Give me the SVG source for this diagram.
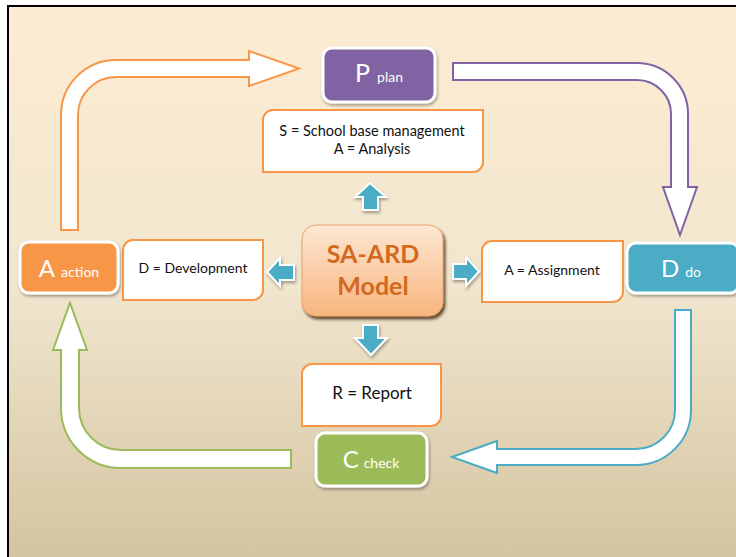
<svg xmlns="http://www.w3.org/2000/svg" width="736" height="557" viewBox="0 0 736 557">
<defs>
<linearGradient id="bg" x1="0" y1="0" x2="0" y2="1">
<stop offset="0" stop-color="#FDECD3"/>
<stop offset="0.5" stop-color="#F1E6CE"/>
<stop offset="1" stop-color="#D3C39F"/>
</linearGradient>
<linearGradient id="core" x1="0" y1="0" x2="0" y2="1">
<stop offset="0" stop-color="#FDE7D3"/>
<stop offset="1" stop-color="#F8B57E"/>
</linearGradient>
<filter id="sh" x="-20%" y="-20%" width="140%" height="150%">
<feDropShadow dx="1" dy="2" stdDeviation="1.5" flood-color="#000" flood-opacity="0.35"/>
</filter>
<filter id="sh2" x="-20%" y="-20%" width="140%" height="150%">
<feDropShadow dx="2" dy="3" stdDeviation="1.5" flood-color="#4a2e12" flood-opacity="0.85"/>
</filter>
<style>
.lbl{font-family:Lato,"Liberation Sans",sans-serif;fill:#fff}
.txt{font-family:Lato,"Liberation Sans",sans-serif;fill:#111;text-anchor:middle}
.box{fill:#fff;stroke:#F79646;stroke-width:2}
.node{stroke:#fff;stroke-width:3;filter:url(#sh)}
.small{fill:#4BACC6;stroke:#fff;stroke-width:2;filter:url(#sh)}
.conn{fill:#fff;stroke-width:2;stroke-linejoin:miter}
</style>
</defs>
<rect x="0" y="0" width="736" height="557" fill="#fff"/>
<rect x="8" y="6" width="740" height="560" fill="url(#bg)" stroke="#000" stroke-width="2"/>

<g id="connectors">
<path class="conn" stroke="#F79646" d="M61,230 L61,115 A55,55 0 0 1 116,60 L249,60 L249,51 L299,68.5 L249,86 L249,77 L116,77 A38,38 0 0 0 78,115 L78,230 Z"/>
<path class="conn" stroke="#8064A2" d="M453,63 L637,63 A51,51 0 0 1 688,114 L688,187 L697,187 L680,235 L663,187 L671,187 L671,114 A34,34 0 0 0 637,80 L453,80 Z"/>
<path class="conn" stroke="#4BACC6" d="M675,310 L691,310 L691,410 A55,55 0 0 1 636,465 L497,465 L497,473 L452,457 L497,441 L497,449 L636,449 A39,39 0 0 0 675,410 Z"/>
<path class="conn" stroke="#9BBB59" d="M291,450 L291,468 L121,468 A60,60 0 0 1 61,408 L61,350 L53,350 L70,303 L87,350 L79,350 L79,408 A42,42 0 0 0 121,450 Z"/>
<path class="small" d="M363,210 L363,197 L355,197 L370,183 L386,197 L378,197 L378,210 Z"/>
<path class="small" d="M294,265 L280,265 L280,258 L267,272 L280,286 L280,280 L294,280 Z"/>
<path class="small" d="M453,264 L466,264 L466,257 L479,271.5 L466,286 L466,279 L453,279 Z"/>
<path class="small" d="M363,325 L378,325 L378,338 L387,338 L371,355 L355,338 L363,338 Z"/>
</g>

<g id="node-plan">
<rect class="node" x="323" y="48" width="112" height="54" rx="9" fill="#8064A2"/>
<text class="lbl" x="379" y="82" text-anchor="middle"><tspan font-size="25">P</tspan><tspan font-size="14" dx="7">plan</tspan></text>
</g>

<g id="node-sa">
<path class="box" d="M273,110 L483,110 L483,162 A10,10 0 0 1 473,172 L263,172 L263,120 A10,10 0 0 1 273,110 Z"/>
<text class="txt" x="372" y="136" font-size="14.5">S = School base management</text>
<text class="txt" x="372" y="154" font-size="14.5">A = Analysis</text>
</g>

<g id="node-action">
<rect class="node" x="20" y="242" width="98" height="51" rx="9" fill="#F79646"/>
<text class="lbl" x="69" y="277" text-anchor="middle"><tspan font-size="24">A</tspan><tspan font-size="14" dx="6">action</tspan></text>
</g>

<g id="node-development">
<path class="box" d="M133,240 L263,240 L263,290 A10,10 0 0 1 253,300 L123,300 L123,250 A10,10 0 0 1 133,240 Z"/>
<text class="txt" x="193" y="273" font-size="14">D = Development</text>
</g>

<g id="node-core">
<rect x="302" y="225" width="141" height="91" rx="14" fill="url(#core)" stroke="#E9A36A" stroke-width="1" filter="url(#sh2)"/>
<text x="373" y="263" text-anchor="middle" font-family="Lato,'Liberation Sans',sans-serif" font-weight="bold" font-size="25" fill="#D2691E">SA-ARD</text>
<text x="373" y="295" text-anchor="middle" font-family="Lato,'Liberation Sans',sans-serif" font-weight="bold" font-size="25" fill="#D2691E">Model</text>
</g>

<g id="node-assignment">
<path class="box" d="M492,241 L623,241 L623,292 A10,10 0 0 1 613,302 L482,302 L482,251 A10,10 0 0 1 492,241 Z"/>
<text class="txt" x="552" y="275" font-size="14">A = Assignment</text>
</g>

<g id="node-do">
<rect class="node" x="627" y="243" width="112" height="50" rx="9" fill="#4BACC6"/>
<text class="lbl" x="681" y="277" text-anchor="middle"><tspan font-size="24">D</tspan><tspan font-size="14" dx="6">do</tspan></text>
</g>

<g id="node-report">
<path class="box" d="M312,364 L441,364 L441,416 A10,10 0 0 1 431,426 L302,426 L302,374 A10,10 0 0 1 312,364 Z"/>
<text class="txt" x="372" y="399" font-size="17">R = Report</text>
</g>

<g id="node-check">
<rect class="node" x="316" y="433" width="111" height="53" rx="9" fill="#9BBB59"/>
<text class="lbl" x="371" y="468" text-anchor="middle"><tspan font-size="24">C</tspan><tspan font-size="14" dx="5">check</tspan></text>
</g>
</svg>
